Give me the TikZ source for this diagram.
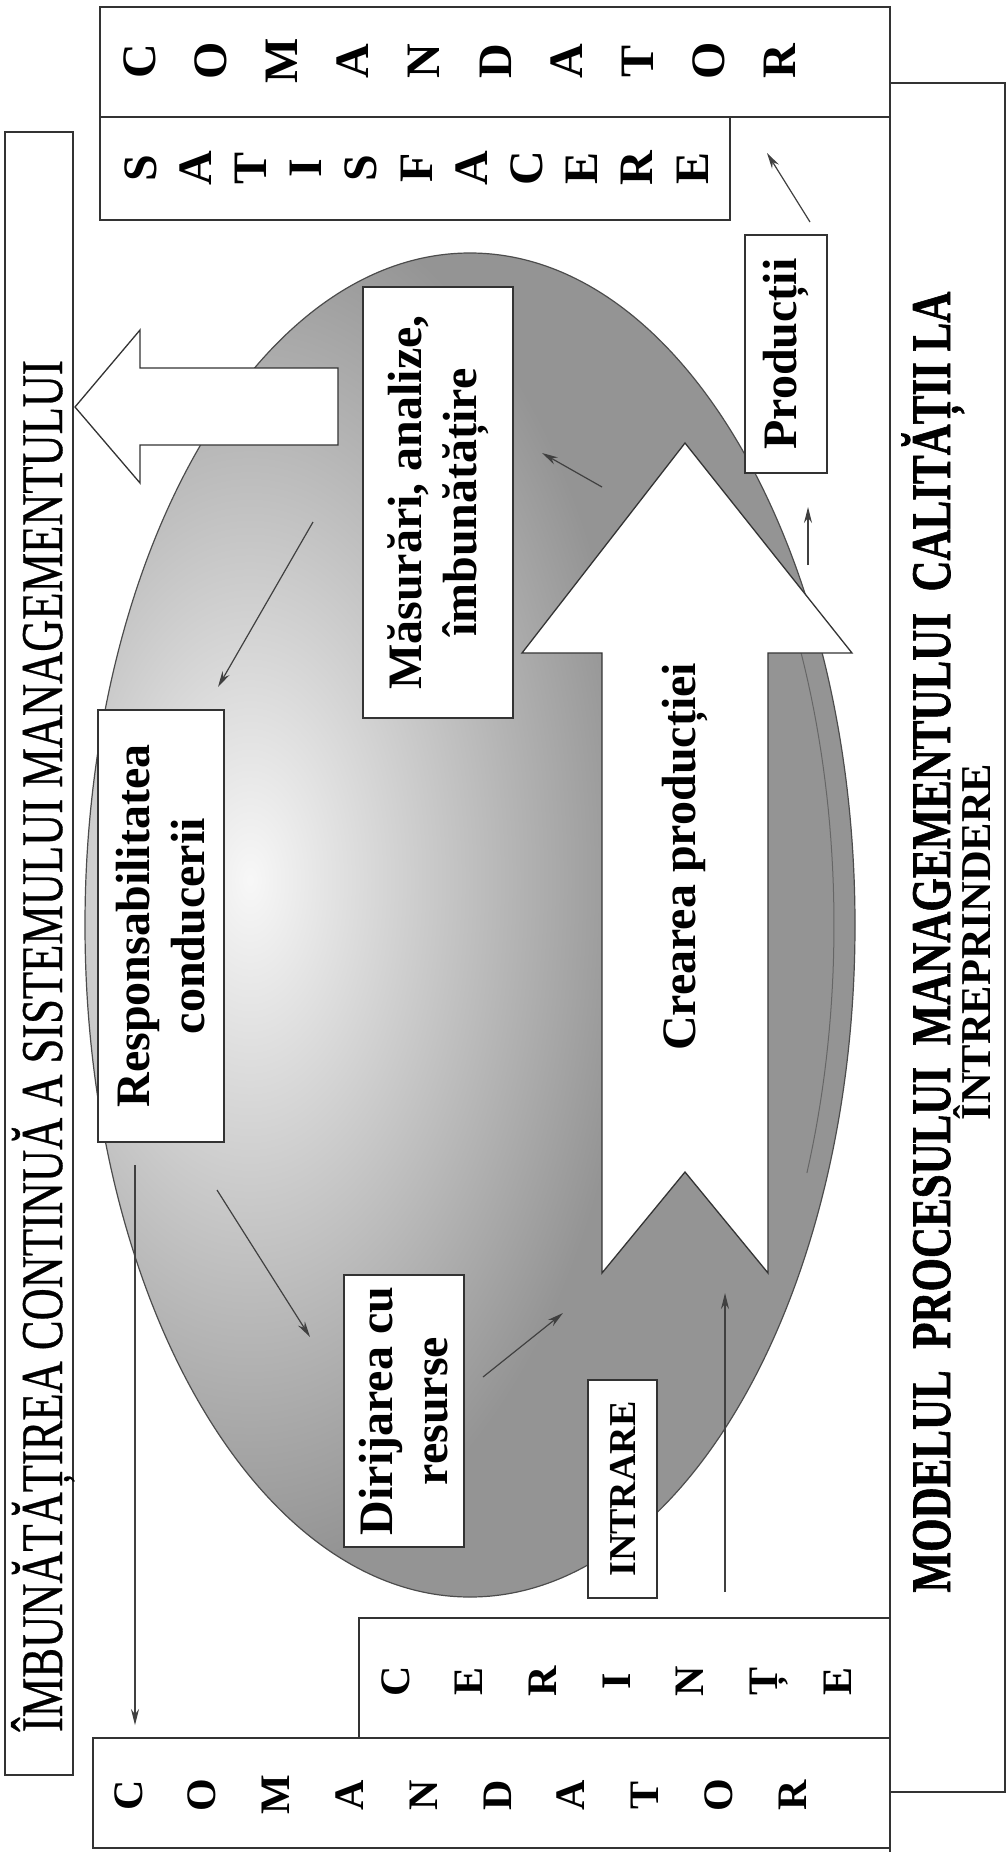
\documentclass[tikz,border=0pt]{standalone}
\usepackage{fontspec}
\setmainfont{Liberation Serif}
\newfontfamily\titlefam[BoldFeatures={FakeBold=1.3}]{Liberation Serif}
\newfontfamily\imfam[FakeBold=0.6]{Liberation Serif}
\usepackage{graphicx}
\usetikzlibrary{arrows.meta}
\begin{document}
\begin{tikzpicture}[x=1pt,y=-1pt,
  frame/.style={draw=black!80, line width=1.3pt},
  emptybox/.style={frame, fill=white, inner sep=0pt},
  wbox/.style={frame, fill=white, rotate=90, inner sep=0pt, align=center, font=\bfseries\fontsize{48}{55}\selectfont},
  letter/.style={rotate=90, inner sep=0pt, text height=32pt, text depth=0pt, font=\bfseries\fontsize{48}{48}\selectfont},
  smallletter/.style={rotate=90, inner sep=0pt, text height=28pt, text depth=0pt, font=\bfseries\fontsize{42}{42}\selectfont},
  conn/.style={draw=black!75, line width=1.2pt, -{Stealth[length=16pt,width=8pt]}},
  hollow/.style={draw=black!80, line width=1.3pt, fill=white, line join=miter}
]
\fill[white] (0,0) rectangle (1006,1852);
\useasboundingbox (0,0) rectangle (1006,1852);

% shaded ellipse
\begin{scope}
  \clip (470,925) ellipse (385pt and 672pt);
  \fill[black!42] (0,0) rectangle (1006,1852);
  \shade[inner color=black!3, outer color=black!42] (250,880) ellipse (390pt and 690pt);
\end{scope}
\draw[black!70, line width=1.2pt] (470,925) ellipse (385pt and 672pt);
\draw[black!60, line width=1pt] plot[domain=-28:22, samples=40] ({462+372*cos(\x)}, {925+662*sin(\x)});

% hollow arrows
\draw[hollow] (75,407) -- (140,330) -- (140,368) -- (338,368) -- (338,445) -- (140,445) -- (140,483) -- cycle;
\draw[hollow] (685,443) -- (852,653) -- (768,653) -- (768,1273) -- (685,1172) -- (602,1273) -- (602,653) -- (522,653) -- cycle;
\node[rotate=90, inner sep=0pt, font=\bfseries\fontsize{48}{55}\selectfont] (crea) at (685,857) {Crearea producției};

% frame lines
\draw[frame] (890,7) -- (890,1852);
\node[frame, inner sep=0pt, minimum width=115pt, minimum height=1709pt] (titlebox) at (947.5,937.5) {};

% letter boxes
\node[emptybox, minimum width=790pt, minimum height=110pt] (topcom) at (495,62) {};
\node[emptybox, minimum width=630pt, minimum height=103pt] (satis) at (415,168.5) {};
\node[emptybox, minimum width=797pt, minimum height=110pt] (botcom) at (491.5,1793) {};
\node[emptybox, minimum width=531pt, minimum height=120pt] (cerinte) at (624.5,1678) {};
\node[emptybox, minimum width=68pt, minimum height=1643pt] (imbox) at (39,953.5) {};

\foreach \l [count=\i] in {C,O,M,A,N,D,A,T,O,R}
  \node[letter] (tc\i) at ({139+71.2*(\i-1)},61) {\l};
\foreach \l [count=\i] in {S,A,T,I,S,F,A,C,E,R,E}
  \node[letter] (sa\i) at ({140+55.2*(\i-1)},168) {\l};
\foreach \l [count=\i] in {C,O,M,A,N,D,A,T,O,R}
  \node[smallletter] (bc\i) at ({128+73.8*(\i-1)},1795) {\l};
\foreach \l [count=\i] in {C,E,R,I,N,Ț,E}
  \node[smallletter] (ce\i) at ({395+73.7*(\i-1)},1681) {\l};

% content boxes
\node[wbox, minimum width=432pt, minimum height=126pt] (resp) at (161,926) {Responsabilitatea\\conducerii};
\node[wbox, minimum width=431pt, minimum height=150pt] (meas) at (438,502.5) {Măsurări, analize,\\îmbunătățire};
\node[wbox, minimum width=272pt, minimum height=120pt] (dir) at (404,1411) {Dirijarea cu\\resurse};
\node[wbox, minimum width=218pt, minimum height=69pt, font=\bfseries\fontsize{38}{44}\selectfont] (intr) at (622.5,1489) {INTRARE};
\node[wbox, minimum width=238pt, minimum height=82pt] (prod) at (786,354) {Producții};

% long texts
\node[rotate=90, anchor=base, inner sep=0pt, font=\imfam\fontsize{44.5}{50}\selectfont] (imtext) at (62,1046) {\scalebox{1}[1.33]{ÎMBUNĂTĂȚIREA CONTINUĂ A SISTEMULUI MANAGEMENTULUI}};
\node[rotate=90, anchor=base, inner sep=0pt, font=\titlefam\bfseries\fontsize{43}{46}\selectfont] (title1) at (950,942) {\scalebox{1}[1.3]{MODELUL\ \ PROCESULUI\ \ MANAGEMENTULUI\ \ CALITĂȚII LA}};
\node[rotate=90, anchor=base, inner sep=0pt, font=\bfseries\fontsize{42.5}{46}\selectfont] (title2) at (990,942) {ÎNTREPRINDERE};

% connectors
\coordinate (a1s) at (313,522); \coordinate (a1e) at (218,687);
\coordinate (a2s) at (217,1190); \coordinate (a2e) at (310,1337);
\coordinate (a3s) at (483,1377); \coordinate (a3e) at (563,1313);
\coordinate (a4s) at (725,1592); \coordinate (a4e) at (725,1293);
\coordinate (a5s) at (602,487); \coordinate (a5e) at (542,453);
\coordinate (a6s) at (808,565); \coordinate (a6e) at (808,507);
\coordinate (a7s) at (810,222); \coordinate (a7e) at (767,153);
\coordinate (a8s) at (135,1165); \coordinate (a8e) at (135,1725);
\draw[conn] (a1s) -- (a1e);
\draw[conn] (a2s) -- (a2e);
\draw[conn] (a3s) -- (a3e);
\draw[conn] (a4s) -- (a4e);
\draw[conn] (a5s) -- (a5e);
\draw[conn] (a6s) -- (a6e);
\draw[conn] (a7s) -- (a7e);
\draw[conn] (a8s) -- (a8e);
\end{tikzpicture}
\end{document}
